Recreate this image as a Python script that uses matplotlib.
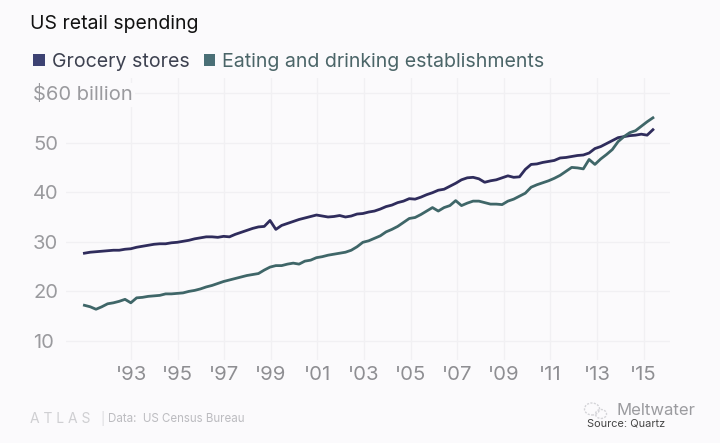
import numpy as np
import matplotlib
matplotlib.use("Agg")
import matplotlib.pyplot as plt
from matplotlib.patches import Patch, Ellipse

plt.rcParams['font.family'] = ['Inter', 'DejaVu Sans']

BG = '#fbfafc'
GRID = '#f1f0f3'

series_names = ['Grocery stores', 'Eating and drinking establishments']
tick_years = [1993, 1995, 1997, 1999, 2001, 2003, 2005, 2007, 2009, 2011, 2013, 2015]
tick_labels = ["'93", "'95", "'97", "'99", "'01", "'03", "'05", "'07", "'09", "'11", "'13", "'15"]
y_ticks = [10, 20, 30, 40, 50, 60]
y_labels = ['10', '20', '30', '40', '50', '$60 billion']

grocery = [
    27.7, 27.9, 28.0, 28.1, 28.2, 28.3, 28.3, 28.5, 28.6, 28.9, 29.1, 29.3,
    29.5, 29.6, 29.6, 29.8, 29.9, 30.1, 30.3, 30.6, 30.8, 31.0, 31.0, 30.9,
    31.1, 31.0, 31.5, 31.9, 32.3, 32.7, 33.0, 33.1, 34.3, 32.5, 33.3, 33.7,
    34.1, 34.5, 34.8, 35.1, 35.4, 35.2, 35.0, 35.1, 35.3, 35.0, 35.2, 35.6,
    35.7, 36.0, 36.2, 36.6, 37.1, 37.4, 37.9, 38.2, 38.7, 38.6, 39.0, 39.5,
    39.9, 40.4, 40.6, 41.2, 41.8, 42.5, 42.9, 43.0, 42.7, 42.0, 42.3, 42.5,
    42.9, 43.3, 43.0, 43.1, 44.6, 45.6, 45.7, 46.0, 46.2, 46.4, 46.9, 47.0,
    47.2, 47.4, 47.5, 47.9, 48.8, 49.2, 49.8, 50.4, 51.0, 51.2, 51.4, 51.5,
    51.7, 51.5, 52.6,
]
eating = [
    17.2, 16.9, 16.4, 16.9, 17.5, 17.7, 18.0, 18.4, 17.7, 18.7, 18.8, 19.0,
    19.1, 19.2, 19.5, 19.5, 19.6, 19.7, 20.0, 20.2, 20.5, 20.9, 21.2, 21.6,
    22.0, 22.3, 22.6, 22.9, 23.2, 23.4, 23.6, 24.3, 24.9, 25.2, 25.2, 25.5,
    25.7, 25.5, 26.1, 26.3, 26.8, 27.0, 27.3, 27.5, 27.7, 27.9, 28.3, 29.0,
    29.9, 30.2, 30.7, 31.2, 32.0, 32.5, 33.1, 33.9, 34.7, 34.9, 35.5, 36.2,
    36.9, 36.2, 36.9, 37.3, 38.3, 37.3, 37.8, 38.2, 38.2, 37.9, 37.6, 37.6,
    37.5, 38.2, 38.6, 39.2, 39.8, 41.0, 41.5, 41.9, 42.3, 42.8, 43.4, 44.2,
    45.0, 44.9, 44.7, 46.6, 45.6, 46.7, 47.6, 48.6, 50.2, 51.2, 52.0, 52.4,
    53.3, 54.2, 55.0,
]
years = np.linspace(1991.0, 2015.4, len(grocery))

W, H = 720, 443
fig = plt.figure(figsize=(W / 100, H / 100), dpi=100, facecolor=BG)
ax = fig.add_axes([66 / W, 1 - 360 / H, (670 - 66) / W, (360 - 78) / H], facecolor=BG)
ax.set_xlim(1993 + (66 - 131) / 23.3, 1993 + (670 - 131) / 23.3)
ax.set_ylim(10 - 19 / 4.96, 10 + 263 / 4.96)

ax.set_axisbelow(True)
ax.grid(True, color=GRID, linewidth=1.0)
for s in ax.spines.values():
    s.set_visible(False)

ax.set_xticks(tick_years, tick_labels)
ax.set_yticks(y_ticks, y_labels)
ax.tick_params(axis='both', length=0)
ax.tick_params(axis='x', labelsize=14.6, labelcolor='#8e8e92', pad=4)
ax.tick_params(axis='y', labelsize=14.5, labelcolor='#9a9a9e', pad=(66 - 33) * 0.72)
for t in ax.get_yticklabels():
    t.set_ha('left')
    t.set_bbox(dict(facecolor=BG, edgecolor='none', pad=1.5))

GROCERY_C = '#2f2c5c'
EATING_C = '#3f6668'
ax.plot(years, grocery, color=GROCERY_C, lw=2.0, solid_joinstyle='round', zorder=3)
ax.plot(years, eating, color=EATING_C, lw=2.0, solid_joinstyle='round', zorder=3)

fig.text(30 / W, 1 - 24 / H, 'US retail spending', fontsize=14.0, color='#111111', va='center', ha='left')

handles = [Patch(facecolor='#3d4273', edgecolor='none'), Patch(facecolor='#4a6f76', edgecolor='none')]
leg = fig.legend(handles, series_names, loc='center left', bbox_to_anchor=(33 / W, 1 - 62 / H), ncol=2,
                 frameon=False, fontsize=14.1, handlelength=0.6, handleheight=0.6,
                 handletextpad=0.36, columnspacing=0.72, borderpad=0, borderaxespad=0)
for t, c in zip(leg.get_texts(), ['#3d4150', '#4b6568']):
    t.set_color(c)

fig.text(30 / W, 1 - 419 / H, 'A T L A S', fontsize=10, color='#cfcfd2', va='center', ha='left')
fig.text(100 / W, 1 - 419 / H, '|', fontsize=9, color='#dcdcdf', va='center', ha='left')
fig.text(108 / W, 1 - 419.5 / H, 'Data:  US Census Bureau', fontsize=8.3, color='#bcbcc0', va='center', ha='left')

# watermark icon, two soft rings
for cx, cy, w_, h_ in [(592, 409, 15, 12), (601, 414, 11, 9)]:
    fig.add_artist(Ellipse((cx / W, 1 - cy / H), w_ / W, h_ / H, transform=fig.transFigure,
                           facecolor='none', edgecolor='#d4d4d8', lw=1.0, ls=(0, (1.5, 1))))

fig.text(587 / W, 1 - 423.5 / H, 'Source: Quartz', fontsize=7.9, color='#444444', va='center', ha='left')
fig.text(617 / W, 1 - 410.5 / H, 'Meltwater', fontsize=12, color='#9b9b9f', va='center', ha='left')

fig.savefig('out.png', dpi=100, facecolor=BG)
